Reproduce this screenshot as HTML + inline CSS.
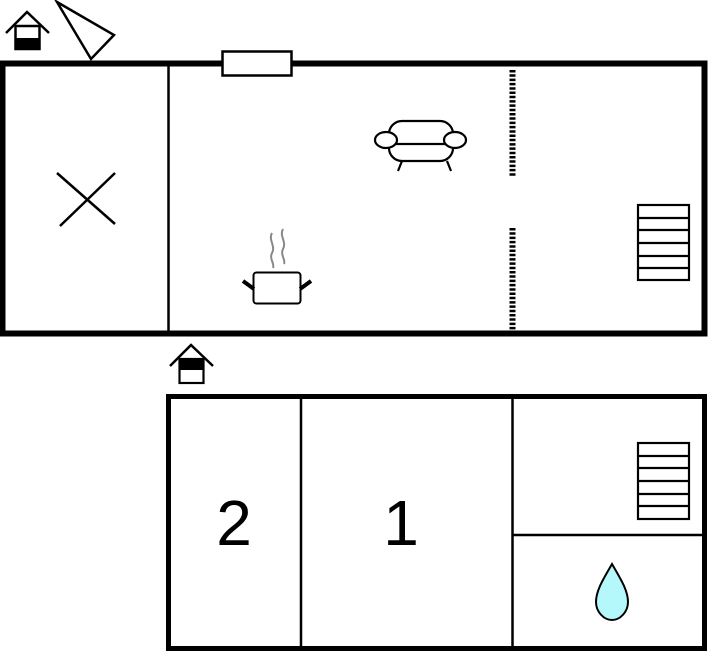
<!DOCTYPE html>
<html><head><meta charset="utf-8"><style>
html,body{margin:0;padding:0;background:#fff;}
svg{display:block;}
</style></head><body>
<svg width="708" height="652" viewBox="0 0 708 652" xmlns="http://www.w3.org/2000/svg">
<rect width="708" height="652" fill="#fff"/>
<!-- top building -->
<rect x="2.5" y="63.5" width="702" height="270" fill="none" stroke="#000" stroke-width="6"/>
<line x1="168.5" y1="65" x2="168.5" y2="332" stroke="#000" stroke-width="2.5"/>
<rect x="222.5" y="51.5" width="69" height="24" fill="#fff" stroke="#000" stroke-width="2.5"/>
<line x1="512.5" y1="70" x2="512.5" y2="176" stroke="#000" stroke-width="6" stroke-dasharray="2.5 1.8"/>
<line x1="512.5" y1="228" x2="512.5" y2="332" stroke="#000" stroke-width="6" stroke-dasharray="2.5 1.8"/>
<!-- X -->
<line x1="57" y1="173" x2="115" y2="224" stroke="#000" stroke-width="2.5"/>
<line x1="60" y1="226" x2="115" y2="173" stroke="#000" stroke-width="2.5"/>
<!-- entrance icon top -->
<polyline points="6,33 27,12 49,33" fill="none" stroke="#000" stroke-width="2.5"/>
<rect x="15.5" y="26" width="24" height="23" fill="#fff" stroke="#000" stroke-width="2.5"/>
<rect x="15" y="38" width="25" height="12" fill="#000"/>
<!-- compass triangle -->
<polygon points="57,2 114,35 91,59" fill="#fff" stroke="#000" stroke-width="2.5" stroke-linejoin="miter"/>
<!-- sofa -->
<rect x="389" y="121" width="64" height="40" rx="13" fill="#fff" stroke="#000" stroke-width="2.2"/>
<line x1="394" y1="144" x2="448" y2="144" stroke="#000" stroke-width="2.2"/>
<ellipse cx="386" cy="140" rx="11" ry="8" fill="#fff" stroke="#000" stroke-width="2.2"/>
<ellipse cx="455" cy="140" rx="11" ry="8" fill="#fff" stroke="#000" stroke-width="2.2"/>
<line x1="402" y1="161" x2="398" y2="171" stroke="#000" stroke-width="2.2"/>
<line x1="447" y1="161" x2="451" y2="171" stroke="#000" stroke-width="2.2"/>
<!-- pot -->
<path d="M272,233 C268,240 276,246 272,253 C269,259 275,264 273,268" fill="none" stroke="#888" stroke-width="2"/>
<path d="M283,229 C279,236 287,242 283,249 C280,255 286,260 284,264" fill="none" stroke="#888" stroke-width="2"/>
<rect x="253.5" y="272.5" width="47" height="31" rx="3" fill="#fff" stroke="#000" stroke-width="2"/>
<line x1="243" y1="281" x2="254" y2="289" stroke="#000" stroke-width="4"/>
<line x1="311" y1="281" x2="300" y2="289" stroke="#000" stroke-width="4"/>
<!-- stairs top -->
<g fill="none" stroke="#000" stroke-width="2.2">
<rect x="638" y="205" width="51" height="75"/>
<line x1="638" y1="218" x2="689" y2="218"/>
<line x1="638" y1="230" x2="689" y2="230"/>
<line x1="638" y1="243" x2="689" y2="243"/>
<line x1="638" y1="256" x2="689" y2="256"/>
<line x1="638" y1="268" x2="689" y2="268"/>
</g>
<!-- entrance icon bottom -->
<polyline points="170,366 191,345 213,366" fill="none" stroke="#000" stroke-width="2.5"/>
<rect x="179.5" y="359" width="24" height="24" fill="#fff" stroke="#000" stroke-width="2.2"/>
<rect x="179" y="358" width="25" height="12" fill="#000"/>
<!-- bottom building -->
<rect x="168.5" y="396.5" width="536" height="252" fill="none" stroke="#000" stroke-width="5"/>
<line x1="301" y1="398" x2="301" y2="648" stroke="#000" stroke-width="2.5"/>
<line x1="512.5" y1="398" x2="512.5" y2="648" stroke="#000" stroke-width="2.5"/>
<line x1="512" y1="535" x2="704" y2="535" stroke="#000" stroke-width="2.5"/>
<text x="234" y="545" font-family="Liberation Sans, sans-serif" font-size="64" text-anchor="middle" fill="#000">2</text>
<text x="401" y="545" font-family="Liberation Sans, sans-serif" font-size="64" text-anchor="middle" fill="#000">1</text>
<g fill="none" stroke="#000" stroke-width="2.2">
<rect x="638" y="443" width="51" height="76"/>
<line x1="638" y1="456" x2="689" y2="456"/>
<line x1="638" y1="468" x2="689" y2="468"/>
<line x1="638" y1="481" x2="689" y2="481"/>
<line x1="638" y1="494" x2="689" y2="494"/>
<line x1="638" y1="506" x2="689" y2="506"/>
</g>
<path d="M612,564 C620,578 628,590 628,602 C628,612 620,620 612,620 C604,620 596,612 596,602 C596,590 604,578 612,564 Z" fill="#b4f8fc" stroke="#000" stroke-width="2"/>
</svg>
</body></html>
